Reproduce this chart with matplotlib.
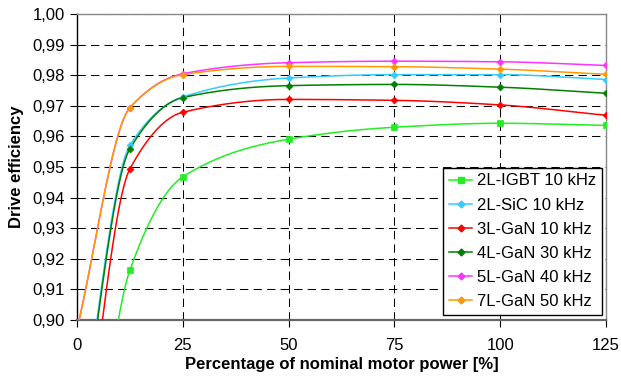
import numpy as np
import matplotlib
matplotlib.use("Agg")
import matplotlib.pyplot as plt
from matplotlib.ticker import FuncFormatter

power = [0, 12.5, 25, 50, 75, 100, 125]
series_names = ["2L-IGBT 10 kHz", "2L-SiC 10 kHz", "3L-GaN 10 kHz",
                "4L-GaN 30 kHz", "5L-GaN 40 kHz", "7L-GaN 50 kHz"]
igbt_2l = [0.800, 0.9163, 0.9468, 0.9591, 0.9630, 0.9643, 0.9636]
sic_2l = [0.855, 0.9571, 0.9729, 0.9791, 0.9802, 0.9802, 0.9786]
gan_3l = [0.835, 0.9494, 0.9679, 0.9721, 0.9718, 0.9703, 0.9669]
gan_4l = [0.853, 0.9560, 0.9727, 0.9766, 0.9770, 0.9761, 0.9741]
gan_5l = [0.897, 0.9694, 0.9805, 0.9841, 0.9846, 0.9844, 0.9832]
gan_7l = [0.897, 0.9694, 0.9802, 0.9829, 0.9828, 0.9820, 0.9803]
values = [igbt_2l, sic_2l, gan_3l, gan_4l, gan_5l, gan_7l]
colors = ["#22EE22", "#33CCFF", "#FF0000", "#008000", "#FF33FF", "#FF9900"]
markers = ["s", "D", "D", "D", "D", "D"]
msizes = [5, 3.5, 3.5, 3.5, 3.5, 3.5]
y_ticks = [0.90, 0.91, 0.92, 0.93, 0.94, 0.95, 0.96, 0.97, 0.98, 0.99, 1.00]
x_ticks = [0, 25, 50, 75, 100, 125]

plt.rcParams['font.family'] = ['Liberation Sans', 'DejaVu Sans']

fig = plt.figure(figsize=(6.21, 3.80), dpi=100)
ax = fig.add_axes([0.124, 0.158, 0.852, 0.805])


def pchip(xs, ys, n=60):
    x = np.asarray(xs, float)
    y = np.asarray(ys, float)
    h = np.diff(x)
    d = np.diff(y) / h
    m = np.zeros_like(y)
    for k in range(1, len(x) - 1):
        if d[k - 1] * d[k] <= 0:
            m[k] = 0.0
        else:
            w1 = 2 * h[k] + h[k - 1]
            w2 = h[k] + 2 * h[k - 1]
            m[k] = (w1 + w2) / (w1 / d[k - 1] + w2 / d[k])
    m[0] = d[0]
    m[-1] = d[-1]
    ox, oy = [], []
    for k in range(len(x) - 1):
        t = np.linspace(0, 1, n)
        if k > 0:
            t = t[1:]
        h00 = 2 * t ** 3 - 3 * t ** 2 + 1
        h10 = t ** 3 - 2 * t ** 2 + t
        h01 = -2 * t ** 3 + 3 * t ** 2
        h11 = t ** 3 - t ** 2
        ox.append(x[k] + t * h[k])
        oy.append(h00 * y[k] + h10 * h[k] * m[k] + h01 * y[k + 1] + h11 * h[k] * m[k + 1])
    return np.concatenate(ox), np.concatenate(oy)


for name, v, c, mk, ms in zip(series_names, values, colors, markers, msizes):
    sx, sy = pchip(power, v)
    ax.plot(sx, sy, color=c, lw=1.1, zorder=3)
    ax.plot(power, v, linestyle='none', marker=mk, color=c, markersize=ms,
            markeredgewidth=0.5, zorder=4)
    ax.plot([], [], color=c, lw=1.1, marker=mk, markersize=ms, label=name)

ax.set_xlim(0, 125)
ax.set_ylim(0.90, 1.00)
ax.set_xticks(x_ticks)
ax.set_yticks(y_ticks)
ax.yaxis.set_major_formatter(FuncFormatter(lambda v, p: f"{v:.2f}".replace('.', ',')))
ax.tick_params(direction='out', length=5, width=0.8, labelsize=12, colors='black')
ax.tick_params(axis='x', pad=8)

ax.grid(True, color='black', lw=0.75, linestyle=(0, (8, 5)))
ax.set_axisbelow(True)
for s in ['top', 'right']:
    ax.spines[s].set_color('#888888')
    ax.spines[s].set_linewidth(1.0)
ax.spines['bottom'].set_color('#666666')
ax.spines['bottom'].set_linewidth(1.6)
ax.spines['left'].set_color('black')
ax.spines['left'].set_linewidth(1.0)

ax.set_xlabel("Percentage of nominal motor power [%]", fontsize=12, fontweight='bold', labelpad=3)
ax.set_ylabel("Drive efficiency", fontsize=12, fontweight='bold', labelpad=6)

leg = ax.legend(loc='lower right', fontsize=12, frameon=True, fancybox=False,
                edgecolor='black', framealpha=1, handlelength=1.4, handletextpad=0.3,
                borderpad=0.35, labelspacing=0.55, borderaxespad=0,
                bbox_to_anchor=(0.993, 0.016))
leg.get_frame().set_linewidth(1.0)

fig.savefig("out.png", dpi=100)
